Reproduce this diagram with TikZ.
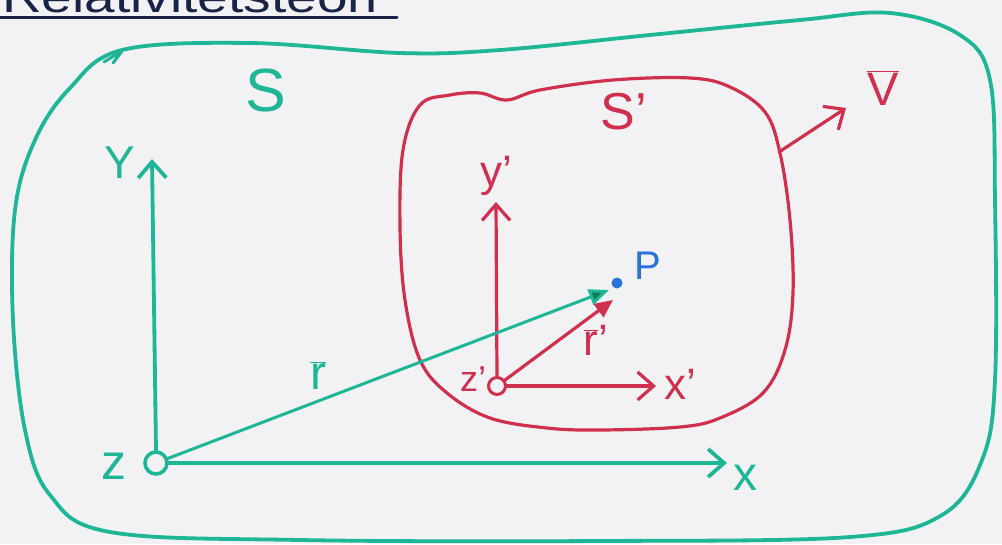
\documentclass[tikz,border=0pt]{standalone}
\usepackage{fontspec}
\setmainfont{Liberation Sans}
\usetikzlibrary{arrows.meta}
\definecolor{tealg}{RGB}{30,182,150}
\definecolor{tealdk}{RGB}{20,120,80}
\definecolor{redc}{RGB}{208,48,78}
\definecolor{bluec}{RGB}{40,115,220}
\definecolor{navy}{RGB}{25,35,70}
\definecolor{paper}{RGB}{242,242,244}
\begin{document}
\begin{tikzpicture}[x=1pt,y=-1pt,line cap=round,line join=round,
  gline/.style={draw=tealg,line width=3.8pt},
  rline/.style={draw=redc,line width=3.2pt},
  chev/.style={-{Straight Barb[length=16pt,width=28pt]}},
  lbl/.style={inner sep=0pt,font=\fontsize{#1}{#1}\selectfont},
  gl/.style={lbl=#1,text=tealg},
  rl/.style={lbl=#1,text=redc}]
\useasboundingbox (0,0) rectangle (1002,544);
\fill[paper] (0,0) rectangle (1002,544);
% title (cut off at top)
\begin{scope}
\clip (0,0) rectangle (420,15);
\node[anchor=base west,inner sep=0pt,text=navy,font=\fontsize{44}{44}\selectfont,xscale=1.25] (title) at (2,12) {Relativitetsteori};
\end{scope}
\draw[navy,line width=3pt] (0,17) -- (397,17);
% frame S
\draw[gline] plot[smooth cycle,tension=0.6] coordinates {(122,50) (250,43) (400,53) (500,50) (650,35) (800,20) (890,13) (960,35) (990,80) (995,200) (995,380) (982,460) (942,515) (850,537) (600,541) (300,540) (110,532) (50,495) (25,430) (13,320) (15,210) (35,140) (70,88)};
\draw[gline,line width=3pt] (104,62) -- (122,51) -- (113,63);
\node[gl=61] (S) at (266,90) {S};
% frame S'
\draw[rline] plot[smooth cycle,tension=0.6] coordinates {(420,105) (450,95) (480,93) (507,100) (540,90) (613,80) (690,78) (730,87) (765,112) (780,153) (790,220) (793,293) (785,350) (763,393) (720,418) (680,427) (600,430) (547,428) (490,418) (447,393) (420,360) (405,300) (400,227) (403,150)};
\node[rl=52] (Sp) at (624,112) {S'};
% S axes
\node[circle,draw=tealg,line width=3.6pt,minimum size=22pt,inner sep=0pt] (O) at (156,463) {};
\node[gl=50] (zO) at (114,466) {z};
\coordinate (ytip) at (152,159);
\coordinate (xtip) at (727,463);
\draw[gline,chev] (O.north) -- (ytip);
\draw[gline,chev] (O.east) -- (xtip);
\node[gl=46] (Y) at (120,163) {Y};
\node[gl=48] (X) at (745,478) {x};
% S' axes
\node[circle,draw=redc,line width=3pt,minimum size=17pt,inner sep=0pt] (Op) at (497,386) {};
\node[rl=36] (zOp) at (473,379) {z'};
\coordinate (yptip) at (496,202);
\coordinate (xptip) at (656,386);
\draw[rline,chev] (Op.north) -- (yptip);
\draw[rline,chev] (Op.east) -- (xptip);
\node[rl=44] (Yp) at (496,176) {y'};
\node[rl=44] (Xp) at (680,384) {x'};
% point P and position vectors
\node[circle,fill=bluec,minimum size=11pt,inner sep=0pt] (P) at (617,283) {};
\node[lbl=40,text=bluec] (Plbl) at (648,266) {P};
\coordinate (rtip) at (609,290);
\coordinate (rptip) at (613,300);
\draw[gline,line width=3pt,-{Triangle[length=20pt,width=16pt,fill=tealdk]}] (O) -- (rtip);
\draw[rline,-{Triangle[length=18pt,width=16pt]}] (Op) -- (rptip);
\node[gl=48] (r) at (318,376) {$\overline{\mbox{r}}$};
\node[rl=44] (rp) at (596,340) {$\overline{\mbox{r}}$'};
% velocity
\coordinate (vs) at (779,152);
\coordinate (vt) at (846,108);
\draw[rline,chev] (vs) -- (vt);
\node[rl=47] (V) at (883,88) {$\overline{\mbox{V}}$};
\end{tikzpicture}
\end{document}
